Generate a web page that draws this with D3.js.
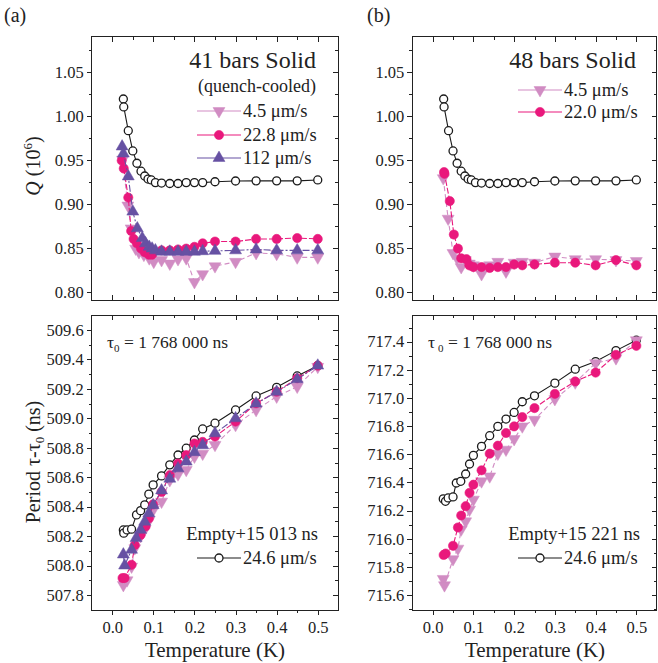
<!DOCTYPE html>
<html>
<head>
<meta charset="utf-8">
<style>
  body { margin: 0; background: #fff; }
  .axis line { stroke: #222; stroke-width: 1; shape-rendering: crispEdges; }
</style>
<title></title>
</head>
<body>
<div id="chart"></div>
<script src="https://d3js.org/d3.v7.min.js"></script>
<script>
// ---- data: quality factor Q (10^6) vs temperature (K) ----
var tEmptyQ = [0.027,0.028,0.039,0.05,0.06,0.07,0.079,0.087,0.095,0.105,0.12,0.14,0.16,0.18,0.20,0.22,0.25,0.30,0.35,0.40,0.45,0.50];
var qEmpty  = [1.019,1.010,0.983,0.960,0.946,0.937,0.9315,0.928,0.927,0.924,0.9235,0.923,0.923,0.924,0.924,0.924,0.925,0.9258,0.926,0.926,0.926,0.927];

// (a) 41 bars
var tA45Q  = [0.025,0.038,0.046,0.057,0.065,0.077,0.09,0.101,0.12,0.14,0.16,0.18,0.20,0.22,0.25,0.30,0.35,0.40,0.45,0.50];
var qA45   = [0.950,0.898,0.872,0.849,0.845,0.842,0.838,0.834,0.836,0.832,0.837,0.838,0.811,0.820,0.829,0.834,0.844,0.843,0.839,0.839];
var tA228Q = [0.023,0.028,0.039,0.046,0.052,0.06,0.07,0.079,0.089,0.097,0.12,0.14,0.16,0.18,0.20,0.22,0.25,0.30,0.35,0.40,0.45,0.50];
var qA228  = [0.949,0.940,0.907,0.869,0.860,0.855,0.849,0.845,0.842,0.842,0.847,0.847,0.848,0.849,0.851,0.855,0.857,0.857,0.860,0.860,0.861,0.860];
var tA112Q = [0.024,0.027,0.039,0.05,0.061,0.073,0.081,0.09,0.097,0.105,0.12,0.14,0.16,0.18,0.20,0.22,0.25,0.30,0.35,0.40,0.45,0.50];
var qA112  = [0.965,0.957,0.931,0.891,0.872,0.861,0.855,0.851,0.849,0.847,0.8455,0.8455,0.8455,0.8455,0.8455,0.846,0.8464,0.847,0.848,0.847,0.847,0.847];

// (b) 48 bars
var tB45Q  = [0.026,0.038,0.05,0.06,0.07,0.08,0.09,0.10,0.12,0.14,0.16,0.18,0.20,0.22,0.25,0.30,0.35,0.40,0.45,0.50];
var qB45   = [0.929,0.883,0.844,0.838,0.828,0.836,0.832,0.830,0.820,0.830,0.834,0.823,0.833,0.834,0.833,0.840,0.837,0.837,0.836,0.835];
var tB220Q = [0.028,0.029,0.042,0.052,0.062,0.07,0.083,0.09,0.10,0.12,0.14,0.16,0.18,0.20,0.22,0.25,0.30,0.35,0.40,0.45,0.50];
var qB220  = [0.936,0.934,0.903,0.865,0.849,0.838,0.837,0.830,0.828,0.828,0.827,0.828,0.828,0.831,0.830,0.831,0.833,0.833,0.830,0.836,0.830];

// ---- data: period tau - tau0 (ns) vs temperature (K) ----
var tAEmptyP = [0.027,0.028,0.036,0.047,0.059,0.069,0.079,0.089,0.0995,0.12,0.14,0.16,0.18,0.20,0.22,0.25,0.30,0.35,0.40,0.45,0.50];
var pAEmpty  = [508.242,508.22,508.242,508.247,508.344,508.373,508.412,508.485,508.548,508.609,508.684,508.751,508.797,508.853,508.928,508.967,509.057,509.152,509.211,509.288,509.358];
var tA45P  = [0.027,0.036,0.047,0.055,0.069,0.08,0.09,0.10,0.12,0.14,0.16,0.18,0.20,0.22,0.25,0.30,0.35,0.40,0.45,0.50];
var pA45   = [507.868,507.90,507.993,508.118,508.20,508.25,508.31,508.38,508.434,508.58,508.62,508.65,508.74,508.76,508.82,508.955,509.057,509.148,509.215,509.35];
var tA228P = [0.025,0.03,0.047,0.055,0.069,0.081,0.089,0.0995,0.12,0.14,0.16,0.18,0.20,0.22,0.25,0.30,0.35,0.40,0.45,0.50];
var pA228  = [507.915,507.915,508.005,508.14,508.208,508.265,508.32,508.416,508.50,508.614,508.693,508.75,508.829,508.84,508.876,508.978,509.102,509.181,509.272,509.358];
var tA112P = [0.027,0.03,0.047,0.058,0.069,0.079,0.089,0.0995,0.12,0.14,0.16,0.18,0.20,0.22,0.25,0.30,0.35,0.40,0.45,0.50];
var pA112  = [508.075,508.0,508.107,508.186,508.242,508.298,508.355,508.41,508.51,508.59,508.66,508.706,508.77,508.817,508.898,509.0,509.10,509.18,509.265,509.358];

var tBEmptyP = [0.026,0.0315,0.038,0.05,0.058,0.069,0.081,0.0905,0.10,0.12,0.14,0.16,0.18,0.20,0.22,0.25,0.30,0.35,0.40,0.45,0.50];
var pBEmpty  = [716.283,716.266,716.29,716.297,716.396,716.408,716.46,716.531,716.592,716.656,716.732,716.798,716.85,716.897,716.973,717.015,717.105,717.204,717.258,717.336,717.41];
var tB45P  = [0.026,0.029,0.05,0.062,0.07,0.081,0.0905,0.10,0.12,0.14,0.16,0.18,0.20,0.22,0.25,0.30,0.35,0.40,0.45,0.50];
var pB45   = [715.715,715.670,715.855,715.93,716.066,716.124,716.207,716.278,716.408,716.443,716.604,716.633,716.708,716.798,716.845,716.992,717.11,717.247,717.282,717.41];
var tB220P = [0.027,0.032,0.05,0.062,0.07,0.081,0.0905,0.10,0.12,0.14,0.16,0.18,0.20,0.22,0.25,0.30,0.35,0.40,0.45,0.50];
var pB220  = [715.885,715.895,715.95,716.08,716.165,716.231,716.326,716.384,716.486,716.604,716.661,716.751,716.798,716.864,716.928,717.029,717.117,717.18,717.306,717.37];

var xTicks = [0.0,0.1,0.2,0.3,0.4,0.5];
var qTicks = [0.80,0.85,0.90,0.95,1.00,1.05];
var pTicksA = [507.8,508.0,508.2,508.4,508.6,508.8,509.0,509.2,509.4,509.6];
var pTicksB = [715.6,715.8,716.0,716.2,716.4,716.6,716.8,717.0,717.2,717.4];

// ---- styles ----
var colEmpty = "#1a1a1a", colPink = "#e9187c", colLight = "#d18cc3", colPurple = "#6651a3";
var styles = {
  empty:  {color: colEmpty,  shape: "circle",   fill: "#fff",      dash: null},
  light:  {color: colLight,  shape: "down",     fill: colLight,    dash: "5,3"},
  pink:   {color: colPink,   shape: "circle",   fill: colPink,     dash: "6,2"},
  purple: {color: colPurple, shape: "up",       fill: colPurple,   dash: "7,2,2,2"}
};
var serif = "'Liberation Serif'";

var width = 658, height = 663;
var svg = d3.select("#chart").append("svg")
  .attr("width", width).attr("height", height);

var xRangeA = [91.7, 338.3], xRangeB = [412.3, 656.7];
var yRangeTop = [300, 36.7], yRangeBot = [610, 315];

function zip(ts, vs) { return ts.map(function(t, i){ return [t, vs[i]]; }); }

function marker(g, style, cx, cy) {
  if (style.shape == "circle") {
    g.append("circle").attr("cx", cx).attr("cy", cy)
      .attr("r", style.fill == "#fff" ? 4 : 4.6)
      .attr("fill", style.fill).attr("stroke", style.color)
      .attr("stroke-width", style.fill == "#fff" ? 1.3 : 0.6);
  } else {
    var sym = d3.symbol().type(d3.symbolTriangle).size(62);
    g.append("path").attr("d", sym())
      .attr("transform", "translate(" + cx + "," + cy + ")" + (style.shape == "down" ? " rotate(180)" : ""))
      .attr("fill", style.fill).attr("stroke", style.color).attr("stroke-width", 0.5);
  }
}

function drawSeries(g, x, y, pts, style) {
  var line = d3.line().x(function(d){ return x(d[0]); }).y(function(d){ return y(d[1]); });
  g.append("path").datum(pts).attr("d", line)
    .attr("fill", "none").attr("stroke", style.color).attr("stroke-width", 1.1)
    .attr("stroke-dasharray", style.dash);
  pts.forEach(function(d){ marker(g, style, x(d[0]), y(d[1])); });
}

function minorVals(lo, hi, step) {
  var out = [];
  for (var v = lo; v <= hi + 1e-9; v += step) out.push(+v.toFixed(4));
  return out;
}

function panel(xr, yr, ydom, yTicks, yMinor, yFmt, showX) {
  var x = d3.scaleLinear().domain([-0.05, 0.55]).range(xr);
  var y = d3.scaleLinear().domain(ydom).range(yr);
  var g = svg.append("g");
  var xMinor = minorVals(-0.05, 0.55, 0.05).filter(function(v){ return v > -0.049 && v < 0.549; });

  // left axis, ticks outward, with labels
  g.append("g").attr("class", "axis").attr("transform", "translate(" + xr[0] + ",0)")
    .call(d3.axisLeft(y).tickValues(yMinor).tickSize(3).tickFormat("").tickSizeOuter(0));
  g.append("g").attr("class", "axis").attr("transform", "translate(" + xr[0] + ",0)")
    .call(d3.axisLeft(y).tickValues(yTicks).tickSize(5).tickPadding(3).tickFormat(d3.format(yFmt)).tickSizeOuter(0));
  // right axis, ticks inward
  g.append("g").attr("class", "axis").attr("transform", "translate(" + xr[1] + ",0)")
    .call(d3.axisLeft(y).tickValues(yMinor).tickSize(3).tickFormat("").tickSizeOuter(0));
  g.append("g").attr("class", "axis").attr("transform", "translate(" + xr[1] + ",0)")
    .call(d3.axisLeft(y).tickValues(yTicks).tickSize(5).tickFormat("").tickSizeOuter(0));
  // top axis, ticks inward
  g.append("g").attr("class", "axis").attr("transform", "translate(0," + yr[1] + ")")
    .call(d3.axisBottom(x).tickValues(xMinor).tickSize(3).tickFormat("").tickSizeOuter(0));
  g.append("g").attr("class", "axis").attr("transform", "translate(0," + yr[1] + ")")
    .call(d3.axisBottom(x).tickValues(xTicks).tickSize(5).tickFormat("").tickSizeOuter(0));
  // bottom axis
  if (showX) {
    g.append("g").attr("class", "axis").attr("transform", "translate(0," + yr[0] + ")")
      .call(d3.axisBottom(x).tickValues(xMinor).tickSize(3).tickFormat("").tickSizeOuter(0));
    g.append("g").attr("class", "axis").attr("transform", "translate(0," + yr[0] + ")")
      .call(d3.axisBottom(x).tickValues(xTicks).tickSize(5).tickPadding(6).tickFormat(d3.format(".1f")).tickSizeOuter(0));
  } else {
    g.append("g").attr("class", "axis").attr("transform", "translate(0," + yr[0] + ")")
      .call(d3.axisTop(x).tickValues(xMinor).tickSize(3).tickFormat("").tickSizeOuter(0));
    g.append("g").attr("class", "axis").attr("transform", "translate(0," + yr[0] + ")")
      .call(d3.axisTop(x).tickValues(xTicks).tickSize(5).tickFormat("").tickSizeOuter(0));
  }
  g.selectAll(".axis .domain").remove();
  g.selectAll(".axis text").style("font-size", "16.5px").style("fill", "#222");
  g.append("rect").attr("x", xr[0]).attr("y", yr[1])
    .attr("width", xr[1] - xr[0]).attr("height", yr[0] - yr[1])
    .attr("fill", "none").attr("stroke", "#222").attr("stroke-width", 1)
    .attr("shape-rendering", "crispEdges");
  return {g: g, x: x, y: y};
}

var qMinor = minorVals(0.8, 1.075, 0.025);
var pMinorA = minorVals(507.8, 509.6, 0.1);
var pMinorB = minorVals(715.5, 717.5, 0.1);

// (a) top
var pa = panel(xRangeA, yRangeTop, [0.7906, 1.0898], qTicks, qMinor, ".2f", false);
drawSeries(pa.g, pa.x, pa.y, zip(tEmptyQ, qEmpty), styles.empty);
drawSeries(pa.g, pa.x, pa.y, zip(tA45Q, qA45), styles.light);
drawSeries(pa.g, pa.x, pa.y, zip(tA228Q, qA228), styles.pink);
drawSeries(pa.g, pa.x, pa.y, zip(tA112Q, qA112), styles.purple);

// (b) top
var pb = panel(xRangeB, yRangeTop, [0.7906, 1.0898], qTicks, qMinor, ".2f", false);
drawSeries(pb.g, pb.x, pb.y, zip(tEmptyQ, qEmpty), styles.empty);
drawSeries(pb.g, pb.x, pb.y, zip(tB45Q, qB45), styles.light);
drawSeries(pb.g, pb.x, pb.y, zip(tB220Q, qB220), styles.pink);

// (a) bottom
var pc = panel(xRangeA, yRangeBot, [507.698, 509.702], pTicksA, pMinorA, ".1f", true);
drawSeries(pc.g, pc.x, pc.y, zip(tAEmptyP, pAEmpty), styles.empty);
drawSeries(pc.g, pc.x, pc.y, zip(tA45P, pA45), styles.light);
drawSeries(pc.g, pc.x, pc.y, zip(tA228P, pA228), styles.pink);
drawSeries(pc.g, pc.x, pc.y, zip(tA112P, pA112), styles.purple);

// (b) bottom
var pd = panel(xRangeB, yRangeBot, [715.494, 717.589], pTicksB, pMinorB, ".1f", true);
drawSeries(pd.g, pd.x, pd.y, zip(tBEmptyP, pBEmpty), styles.empty);
drawSeries(pd.g, pd.x, pd.y, zip(tB45P, pB45), styles.light);
drawSeries(pd.g, pd.x, pd.y, zip(tB220P, pB220), styles.pink);

// ---- legends & annotations ----
function legendRow(x0, cy, style, label) {
  var g = svg.append("g");
  g.append("line").attr("x1", x0).attr("x2", x0 + 44).attr("y1", cy).attr("y2", cy)
    .attr("stroke", style.color).attr("stroke-width", 1.1);
  marker(g, style, x0 + 22, cy);
  g.append("text").attr("x", x0 + 46).attr("y", cy).attr("dy", "0.33em")
    .style("font-size", "18.5px").text(label);
}

function txt(x, y, s, size, anchor) {
  return svg.append("text").attr("x", x).attr("y", y).style("font-size", size)
    .attr("text-anchor", anchor || "start").text(s);
}

txt(4, 22, "(a)", "20px");
txt(367, 22, "(b)", "20px");

txt(316, 68, "41 bars Solid", "24px", "end");
txt(316, 92, "(quench-cooled)", "18px", "end");
legendRow(197, 111, styles.light, "4.5 \u03bcm/s");
legendRow(197, 135, styles.pink, "22.8 \u03bcm/s");
legendRow(197, 158, styles.purple, "112 \u03bcm/s");

txt(636, 68, "48 bars Solid", "24px", "end");
legendRow(518, 90, styles.light, "4.5 \u03bcm/s");
legendRow(518, 112, styles.pink, "22.0 \u03bcm/s");

function tau0(x, y, gap) {
  var t = svg.append("text").attr("x", x).attr("y", y).style("font-size", "17.5px");
  t.append("tspan").text("\u03c4");
  t.append("tspan").style("font-size", "11px").attr("dy", 4).attr("dx", gap).text("0");
  t.append("tspan").attr("dy", -4).text(" = 1 768 000 ns");
}
tau0(107, 348, 0);
tau0(428, 348, 3);

txt(318, 540, "Empty+15 013 ns", "18.5px", "end");
legendRow(197, 558, styles.empty, "24.6 \u03bcm/s");
txt(640, 540, "Empty+15 221 ns", "18.5px", "end");
legendRow(518, 558, styles.empty, "24.6 \u03bcm/s");

// axis titles
var qt = svg.append("text").attr("transform", "translate(40,166) rotate(-90)")
  .attr("text-anchor", "middle").style("font-size", "20px");
qt.append("tspan").style("font-style", "italic").text("Q");
qt.append("tspan").text(" (10");
qt.append("tspan").style("font-size", "13px").attr("dy", -8).text("6");
qt.append("tspan").attr("dy", 8).text(")");

var pt = svg.append("text").attr("transform", "translate(40,462) rotate(-90)")
  .attr("text-anchor", "middle").style("font-size", "20px");
pt.append("tspan").text("Period  \u03c4-\u03c4");
pt.append("tspan").style("font-size", "13px").attr("dy", 4).text("0");
pt.append("tspan").attr("dy", -4).text(" (ns)");

txt(215, 657, "Temperature (K)", "21px", "middle");
txt(535, 657, "Temperature (K)", "21px", "middle");

// serif face on every label (set inline so it is not overridden)
svg.selectAll("text").style("font-family", serif).style("fill", "#222");
</script>
</body>
</html>
